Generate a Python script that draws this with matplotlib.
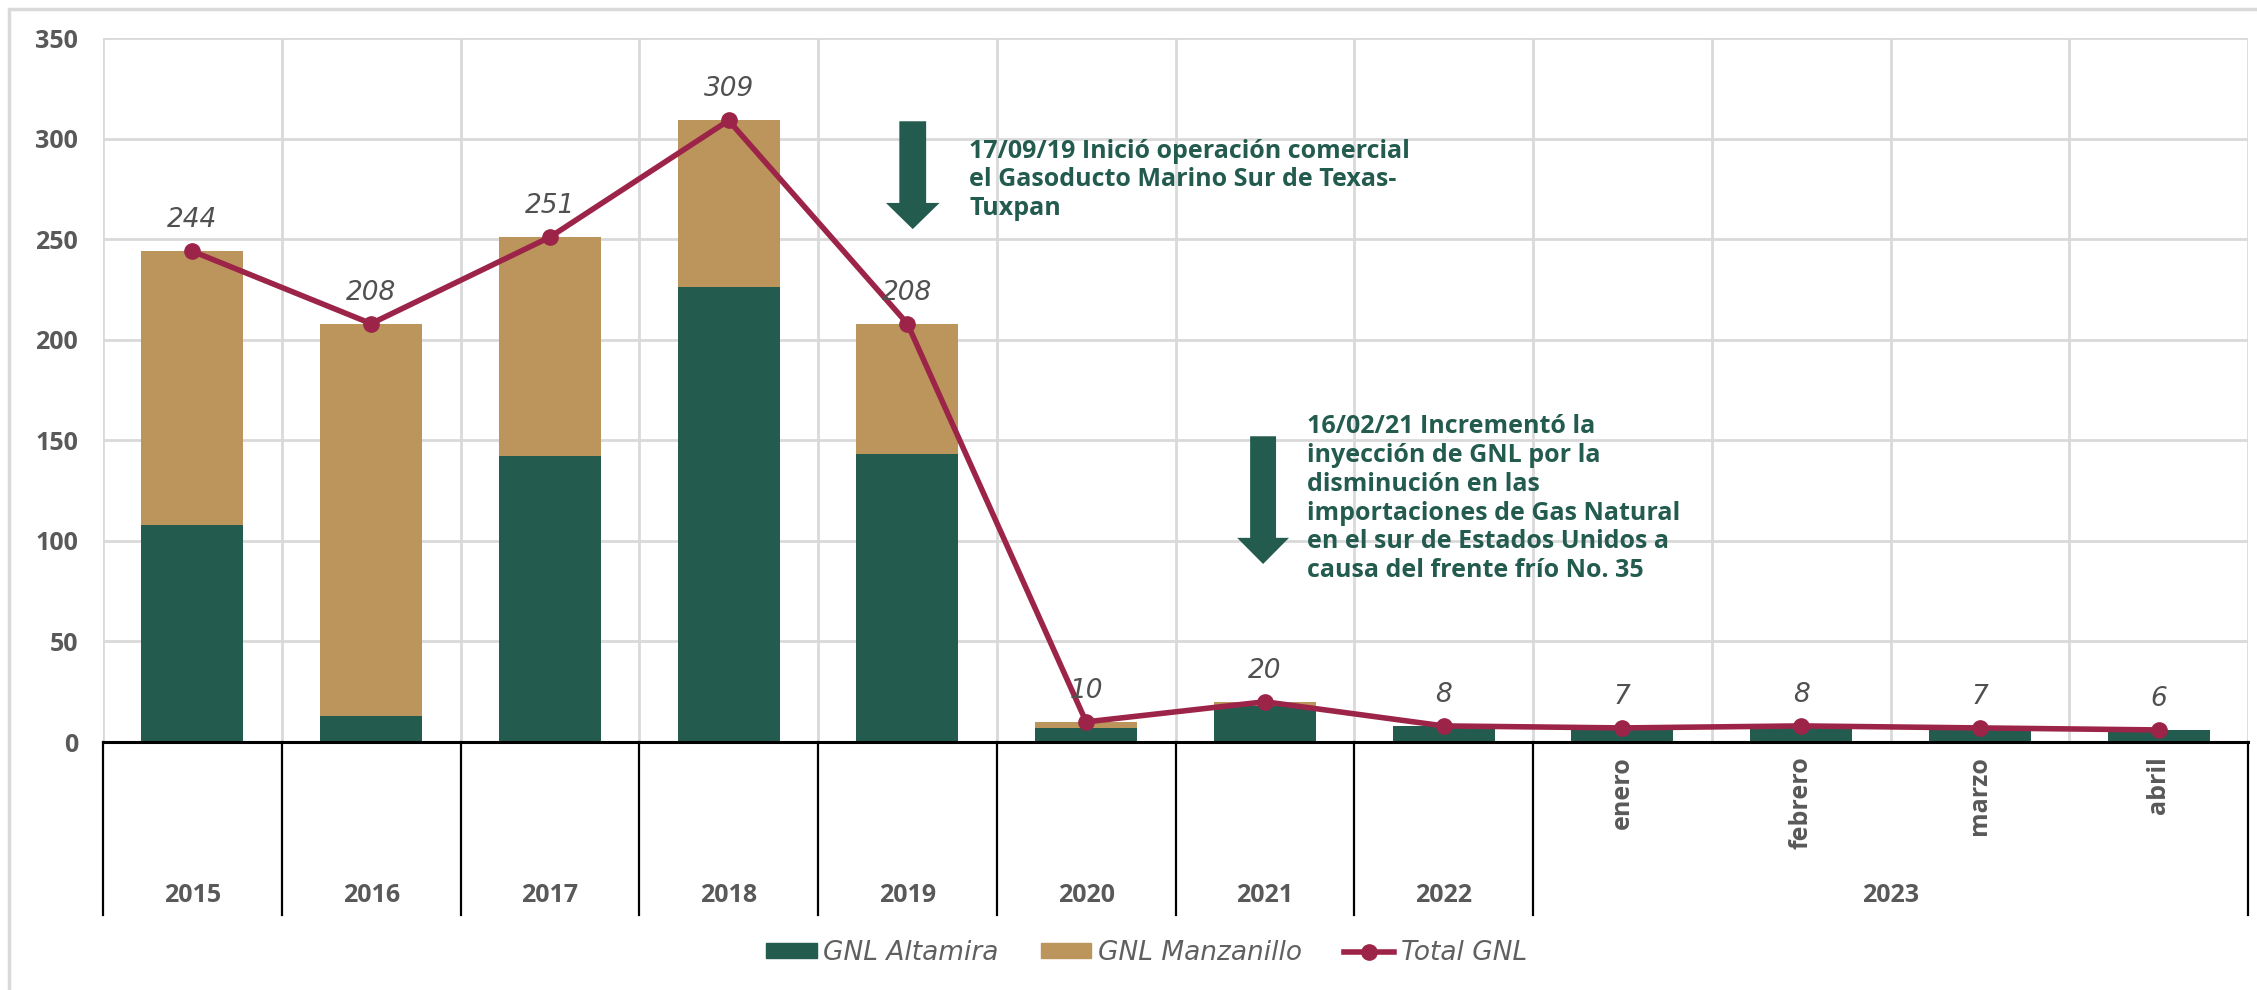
import matplotlib.pyplot as plt
from matplotlib.patches import Patch, Rectangle, FancyArrow
from matplotlib.lines import Line2D
import matplotlib.transforms as mtransforms

# datos
categorias = ["2015", "2016", "2017", "2018", "2019", "2020", "2021", "2022",
              "enero", "febrero", "marzo", "abril"]
altamira = [108, 13, 142, 226, 143, 7, 18, 8, 7, 8, 7, 6]
manzanillo = [136, 195, 109, 83, 65, 3, 2, 0, 0, 0, 0, 0]
total = [244, 208, 251, 309, 208, 10, 20, 8, 7, 8, 7, 6]
anios = ["2015", "2016", "2017", "2018", "2019", "2020", "2021", "2022"]
meses_2023 = ["enero", "febrero", "marzo", "abril"]

verde = "#235B4E"
dorado = "#BC955C"
guinda = "#9D2449"
gris = "#595959"

plt.rcParams['font.family'] = ['Open Sans', 'DejaVu Sans']

fig = plt.figure(figsize=(22.57, 9.9), dpi=100)
ax = fig.add_axes([103/2257, 1-742/990, (2248-103)/2257, (742-38)/990])

# marco exterior
fig.patches.append(Rectangle((9/2257, -0.1), 1.2, 1-9/990+0.1, transform=fig.transFigure,
                             fill=False, edgecolor="#d9d9d9", linewidth=2.5))

x = list(range(len(categorias)))
ax.bar(x, altamira, width=0.57, color=verde, zorder=2, label="GNL Altamira")
ax.bar(x, manzanillo, width=0.57, bottom=altamira, color=dorado, zorder=2, label="GNL Manzanillo")
ax.plot(x, total, color=guinda, linewidth=4, marker='o', markersize=11, zorder=3, label="Total GNL")

for xi, v in zip(x, total):
    ax.annotate(str(v), (xi, v), xytext=(0, 13), textcoords='offset points',
                ha='center', va='bottom', fontsize=19, style='italic',
                color="#505050", family=['DejaVu Sans'], zorder=4)

ax.set_xlim(-0.5, len(categorias) - 0.5)
ax.set_ylim(0, 350)
ax.set_yticks(range(0, 351, 50))
ax.tick_params(axis='y', length=0, pad=18, labelsize=18, labelcolor=gris)
for t in ax.get_yticklabels():
    t.set_fontweight('bold')
ax.set_xticks([i - 0.5 for i in range(len(categorias) + 1)])
ax.set_xticklabels([])
ax.tick_params(axis='x', length=0)
ax.grid(True, color="#d9d9d9", linewidth=2, zorder=0)
ax.set_axisbelow(True)
for s in ["top", "right", "left"]:
    ax.spines[s].set_visible(False)
ax.spines["bottom"].set_color("black")
ax.spines["bottom"].set_linewidth(2.2)
ax.spines["bottom"].set_zorder(5)

# eje de categorias multinivel
trans = mtransforms.blended_transform_factory(ax.transData, ax.transAxes)
y_fondo = (742 - 915) / 704
for b in [i - 0.5 for i in range(len(anios) + 1)] + [len(categorias) - 0.5]:
    ax.plot([b, b], [0, y_fondo], color="black", linewidth=1.6, transform=trans, clip_on=False)
y_anio = (742 - 895) / 704
for i, a in enumerate(anios):
    ax.text(i, y_anio, a, transform=trans, ha='center', va='center', fontsize=18,
            fontweight='bold', color=gris)
ax.text(len(anios) + (len(meses_2023) - 1) / 2, y_anio, "2023", transform=trans, ha='center',
        va='center', fontsize=18, fontweight='bold', color=gris)
for j, m in enumerate(meses_2023):
    ax.text(len(anios) + j, (742 - 756) / 704, m, transform=trans, ha='center', va='top',
            rotation=90, fontsize=18, fontweight='bold', color=gris)

# flechas y notas
ax.add_patch(FancyArrow(4.03, 308.6, 0, -53.6, width=0.15, head_width=0.30, head_length=13,
                        length_includes_head=True, color=verde, zorder=4, linewidth=0))
ax.add_patch(FancyArrow(5.99, 152, 0, -63.5, width=0.145, head_width=0.29, head_length=13,
                        length_includes_head=True, color=verde, zorder=4, linewidth=0))
ax.text(4.345, 300, "17/09/19 Inició operación comercial\nel Gasoducto Marino Sur de Texas-\nTuxpan",
        ha='left', va='top', fontsize=18, fontweight='bold', color=verde, linespacing=1.2, zorder=4)
ax.text(6.236, 163, "16/02/21 Incrementó la\ninyección de GNL por la\ndisminución en las\n"
        "importaciones de Gas Natural\nen el sur de Estados Unidos a\ncausa del frente frío No. 35",
        ha='left', va='top', fontsize=18, fontweight='bold', color=verde, linespacing=1.2, zorder=4)

handles = [Patch(color=verde), Patch(color=dorado),
           Line2D([], [], color=guinda, linewidth=4, marker='o', markersize=11)]
fig.legend(handles, ["GNL Altamira", "GNL Manzanillo", "Total GNL"], loc='center',
           bbox_to_anchor=(1147/2257, 1-953/990), ncol=3, frameon=False,
           prop=dict(family=['DejaVu Sans'], style='italic', size=19),
           labelcolor="#606060", handlelength=1.9, handleheight=0.48, handletextpad=0.26,
           columnspacing=1.6)

fig.savefig("out.png", dpi=100)
